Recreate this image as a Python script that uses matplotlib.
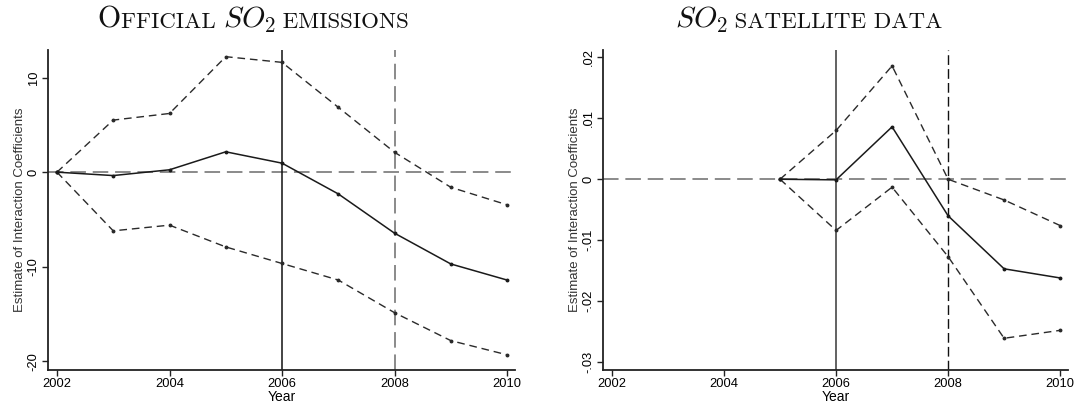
import matplotlib
matplotlib.use("Agg")
import matplotlib.pyplot as plt
from matplotlib.offsetbox import TextArea, HPacker, AnchoredOffsetbox

plt.rcParams['font.family'] = 'Liberation Sans'
plt.rcParams['mathtext.fontset'] = 'cm'

# Official SO2 emissions, 2002-2010
years_off = [2002, 2003, 2004, 2005, 2006, 2007, 2008, 2009, 2010]
coef_off = [0.0, -0.36, 0.25, 2.15, 0.95, -2.3, -6.45, -9.7, -11.4]
upper_off = [0.0, 5.5, 6.2, 12.2, 11.6, 6.85, 2.1, -1.6, -3.45]
lower_off = [0.0, -6.2, -5.6, -7.9, -9.65, -11.4, -14.85, -17.8, -19.3]
yticks_off = [10, 0, -10, -20]
ylabels_off = ['10', '0', '-10', '-20']

# SO2 satellite data, 2005-2010
years_sat = [2005, 2006, 2007, 2008, 2009, 2010]
coef_sat = [0.0, -0.0001, 0.0086, -0.006, -0.0147, -0.0162]
upper_sat = [0.0, 0.008, 0.0186, 0.0, -0.0034, -0.0076]
lower_sat = [0.0, -0.0084, -0.0013, -0.0127, -0.0261, -0.0248]
yticks_sat = [0.02, 0.01, 0, -0.01, -0.02, -0.03]
ylabels_sat = ['.02', '.01', '0', '-.01', '-.02', '-.03']

xticks = [2002, 2004, 2006, 2008, 2010]

fig = plt.figure(figsize=(10.78, 4.07), dpi=100)
ax1 = fig.add_axes([0.0445, 0.091, 0.4332, 0.786])
ax2 = fig.add_axes([0.5594, 0.091, 0.4313, 0.786])

ci_dash = (0, (5.5, 3.5))
zero_dash = (0, (8, 3.5))


def panel(ax, years, coef, upper, lower, yticks, ylabels, ylim):
    ax.axhline(0, color='#8a8a8a', lw=1.4, ls=zero_dash, zorder=1)
    ax.plot(years, upper, color='#2a2a2a', lw=1.0, ls=ci_dash, marker='o', ms=1.8)
    ax.plot(years, lower, color='#2a2a2a', lw=1.0, ls=ci_dash, marker='o', ms=1.8)
    ax.plot(years, coef, color='#1a1a1a', lw=1.1, marker='o', ms=1.8)
    ax.set_xlim(2001.84, 2010.14)
    ax.set_ylim(*ylim)
    ax.set_xticks(xticks)
    ax.set_yticks(yticks)
    ax.set_yticklabels(ylabels, rotation=90, va='center')
    ax.tick_params(labelsize=9.3, length=4, width=1.0, color='#222222', pad=2)
    for s in ['top', 'right']:
        ax.spines[s].set_visible(False)
    for s in ['left', 'bottom']:
        ax.spines[s].set_linewidth(1.3)
        ax.spines[s].set_color('#222222')
    ax.set_xlabel('Year', fontsize=10, labelpad=0)
    ax.set_ylabel('Estimate of Interaction Coefficients', fontsize=9.5, labelpad=1, color='#333333')


panel(ax1, years_off, coef_off, upper_off, lower_off, yticks_off, ylabels_off, (-20.9, 12.9))
ax1.axvline(2006, color='#111111', lw=1.1, zorder=1)
ax1.axvline(2008, color='#8a8a8a', lw=1.4, ls=zero_dash, zorder=1)

panel(ax2, years_sat, coef_sat, upper_sat, lower_sat, yticks_sat, ylabels_sat, (-0.0313, 0.0212))
ax2.axvline(2006, color='#555555', lw=1.3, zorder=1)
ax2.axvline(2008, color='#111111', lw=1.0, ls=(0, (7, 3)), zorder=1)


def small_caps_title(parts, x, y):
    # parts: (text, size) pairs laid out on one baseline
    boxes = [TextArea(t, textprops=dict(family='cmr10', fontsize=s, color='#111111')) for t, s in parts]
    pack = HPacker(children=boxes, align='baseline', pad=0, sep=0)
    anchored = AnchoredOffsetbox(loc='lower center', child=pack, frameon=False, pad=0,
                                 borderpad=0, bbox_to_anchor=(x, y),
                                 bbox_transform=fig.transFigure)
    fig.add_artist(anchored)


small_caps_title([('O', 21.5), ('FFICIAL ', 16.5), ('$SO_2$', 21.5), (' EMISSIONS', 16.5)], 0.235, 0.915)
small_caps_title([('$SO_2$', 21.5), (' SATELLITE DATA', 16.5)], 0.75, 0.915)

fig.savefig('out.png', dpi=100)
